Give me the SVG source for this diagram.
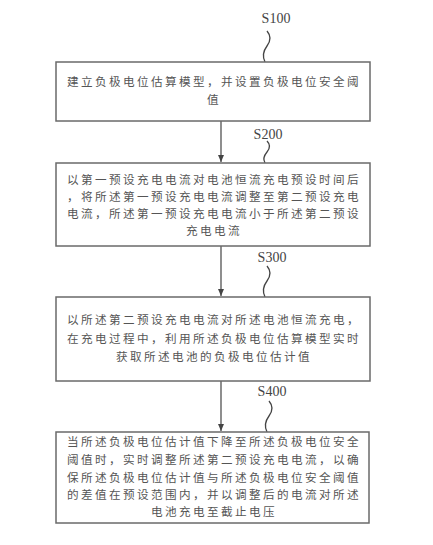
<svg xmlns="http://www.w3.org/2000/svg" width="433" height="545" viewBox="0 0 433 545">
<defs>
<style>
.box{fill:#fff;stroke:#6a6a6a;stroke-width:1.5}
.t{font-family:"Noto Sans CJK SC","Noto Sans",sans-serif;font-size:11.6px;letter-spacing:2.4px;fill:#555;text-anchor:middle}
.lbl{font-family:"Liberation Serif",serif;font-size:14px;fill:#444;text-anchor:middle}
.sq{fill:none;stroke:#444;stroke-width:1.3}
.ln{stroke:#444;stroke-width:1.2;fill:none}
</style>
<marker id="ah" markerWidth="8" markerHeight="8" refX="7" refY="4" orient="auto" markerUnits="userSpaceOnUse">
<path d="M0,1 L7,4 L0,7 Z" fill="#444"/>
</marker>
</defs>
<rect width="433" height="545" fill="#fff"/>
<g id="connectors">
<line class="ln" x1="221" y1="121" x2="221" y2="162" marker-end="url(#ah)"/>
<line class="ln" x1="221" y1="246" x2="221" y2="296" marker-end="url(#ah)"/>
<line class="ln" x1="221" y1="381" x2="221" y2="431" marker-end="url(#ah)"/>
</g>
<g id="s100">
<text class="lbl" x="276" y="23">S100</text>
<path class="sq" d="M267 31 q6 7 0 15 q-6 8 -2 16"/>
<rect class="box" x="56" y="62" width="314" height="59"/>
<text class="t" x="214" y="86">建立负极电位估算模型，并设置负极电位安全阈</text>
<text class="t" x="214" y="104">值</text>
</g>
<g id="s200">
<text class="lbl" x="268" y="139">S200</text>
<path class="sq" d="M267 141 q5 5 0 11 q-5 6 -2 11"/>
<rect class="box" x="56" y="163" width="314" height="83"/>
<text class="t" x="214" y="184">以第一预设充电电流对电池恒流充电预设时间后</text>
<text class="t" x="214" y="201">，将所述第一预设充电电流调整至第二预设充电</text>
<text class="t" x="214" y="218">电流，所述第一预设充电电流小于所述第二预设</text>
<text class="t" x="214" y="235">充电电流</text>
</g>
<g id="s300">
<text class="lbl" x="272" y="262">S300</text>
<path class="sq" d="M267 266 q6 7 0 15 q-6 8 -2 16"/>
<rect class="box" x="56" y="297" width="314" height="84"/>
<text class="t" x="214" y="324">以所述第二预设充电电流对所述电池恒流充电，</text>
<text class="t" x="214" y="343">在充电过程中，利用所述负极电位估算模型实时</text>
<text class="t" x="214" y="361">获取所述电池的负极电位估计值</text>
</g>
<g id="s400">
<text class="lbl" x="272" y="396">S400</text>
<path class="sq" d="M269 401 q6 7 0 15 q-6 8 -2 16"/>
<rect class="box" x="56" y="432" width="313" height="91"/>
<text class="t" x="214" y="446">当所述负极电位估计值下降至所述负极电位安全</text>
<text class="t" x="214" y="464">阈值时，实时调整所述第二预设充电电流，以确</text>
<text class="t" x="214" y="482">保所述负极电位估计值与所述负极电位安全阈值</text>
<text class="t" x="214" y="499">的差值在预设范围内，并以调整后的电流对所述</text>
<text class="t" x="214" y="516">电池充电至截止电压</text>
</g>
</svg>
